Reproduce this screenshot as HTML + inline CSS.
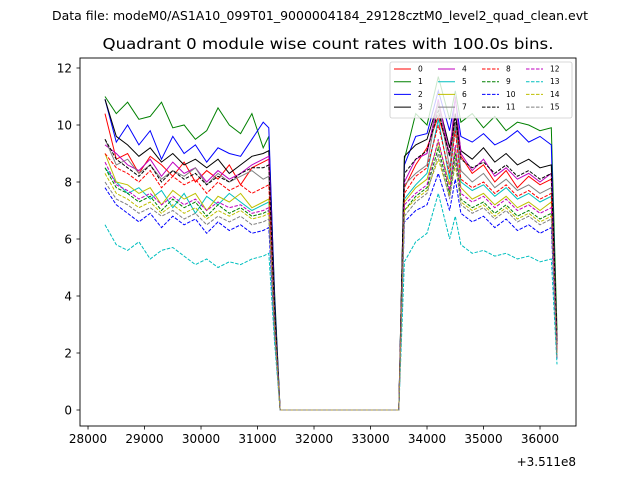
<!DOCTYPE html>
<html><head><meta charset="utf-8"><style>
body{margin:0;background:#fff;font-family:"Liberation Sans","DejaVu Sans",sans-serif}
svg text{font-family:"DejaVu Sans","Liberation Sans",sans-serif}
</style></head><body>
<svg id="c" width="640" height="480" xmlns="http://www.w3.org/2000/svg">
<rect width="640" height="480" fill="#fff"/>
<text x="320" y="20" font-size="12.4" text-anchor="middle" textLength="536" lengthAdjust="spacingAndGlyphs">Data file: modeM0/AS1A10_099T01_9000004184_29128cztM0_level2_quad_clean.evt</text>
<text x="328" y="49" font-size="15.5" text-anchor="middle" textLength="451" lengthAdjust="spacingAndGlyphs">Quadrant 0 module wise count rates with 100.0s bins.</text>
<g id="plot"></g>
<rect x="80" y="58" width="496" height="368" fill="none" stroke="#000" stroke-width="0.9"/>
<g id="axes"></g>
<text x="576" y="466" font-size="12" text-anchor="end">+3.511e8</text>
<g id="legend"></g>
</svg>
<script>
const times=[28300,28500,28700,28900,29100,29300,29500,29700,29900,30100,30300,30500,30700,30900,31100,31200,31300,31400,33500,33600,33800,34000,34200,34400,34500,34600,34800,35000,35200,35400,35600,35800,36000,36200,36300];
const s0=[10.4,8.8,9.0,8.3,8.9,8.6,8.2,8.7,8.0,8.4,8.1,8.6,7.9,8.5,8.7,8.8,3.5,0,0,7.8,8.6,9.2,10.3,9.0,10.1,8.9,8.3,8.6,8.0,8.4,7.8,8.2,7.9,8.1,2.3];
const s1=[11.0,10.4,10.8,10.2,10.3,10.8,9.9,10.0,9.5,9.8,10.6,10.0,9.7,10.4,9.2,9.6,4.2,0,0,8.8,10.4,10.0,11.7,10.2,11.2,10.1,10.4,9.9,10.3,9.8,10.1,10.0,9.8,9.9,2.8];
const s2=[10.9,9.4,10.0,9.3,9.8,8.8,9.6,9.0,9.3,8.7,9.2,9.0,8.9,9.5,10.1,9.9,4.0,0,0,8.6,9.6,9.7,11.2,9.8,10.9,9.6,9.4,9.7,9.3,9.5,9.8,9.4,9.6,9.3,2.0];
const s3=[10.9,9.6,9.3,8.9,9.2,8.7,9.0,8.6,8.8,8.5,8.8,8.3,8.6,8.9,9.0,9.1,3.8,0,0,8.9,9.3,9.5,10.8,9.2,10.4,9.1,8.8,9.2,8.7,9.0,8.6,8.8,8.5,8.6,2.5];
const s4=[9.3,9.0,8.6,8.4,8.8,8.2,8.7,8.3,8.5,8.0,8.4,8.1,8.3,8.6,8.8,8.9,3.3,0,0,8.0,8.8,9.0,10.9,8.9,11.0,9.0,8.4,8.8,8.2,8.5,8.1,8.3,8.0,8.3,2.2];
const s5=[8.5,8.0,7.6,7.8,7.4,7.7,7.1,7.6,6.9,7.5,7.2,7.6,7.3,7.0,7.2,7.3,3.0,0,0,7.4,7.9,8.3,10.2,8.1,10.0,8.0,7.7,7.9,7.5,7.8,7.4,7.6,7.3,7.5,2.0];
const s6=[9.0,8.0,7.9,7.6,7.8,7.2,7.7,7.4,7.6,7.0,7.5,7.3,7.6,7.1,7.3,7.4,3.1,0,0,7.3,7.8,8.1,9.4,7.9,9.2,7.8,7.4,7.6,7.2,7.5,7.1,7.3,7.0,7.3,2.1];
const s7=[9.5,8.6,8.8,8.3,8.6,8.1,8.4,8.2,8.5,7.9,8.3,8.0,8.2,8.4,8.1,8.2,3.4,0,0,7.9,8.3,8.6,10.8,8.5,10.1,8.4,8.0,8.3,7.8,8.1,7.7,7.9,7.6,7.8,2.2];
const s8=[9.0,8.5,8.3,8.0,8.4,7.8,8.2,7.9,8.1,7.6,8.0,7.7,7.9,7.6,7.8,7.9,3.2,0,0,7.6,8.2,8.5,10.0,8.3,9.8,8.1,7.8,8.0,7.6,7.9,7.5,7.7,7.4,7.6,2.1];
const s9=[8.5,7.8,7.6,7.3,7.5,7.0,7.4,7.1,7.3,6.8,7.2,6.9,7.1,6.8,6.9,7.0,2.9,0,0,7.0,7.5,7.8,9.2,7.6,9.0,7.4,7.1,7.3,6.9,7.2,6.8,7.0,6.7,6.9,1.9];
const s10=[7.8,7.2,6.9,6.6,6.9,6.4,6.8,6.5,6.7,6.2,6.6,6.3,6.5,6.2,6.3,6.4,2.7,0,0,6.6,7.0,7.2,8.3,7.0,8.1,6.9,6.6,6.8,6.4,6.7,6.3,6.5,6.2,6.4,1.8];
const s11=[9.5,8.8,8.5,8.2,8.6,8.0,8.4,8.1,8.3,7.9,8.2,8.0,8.3,8.5,8.5,8.6,3.4,0,0,8.3,8.8,9.1,10.5,8.9,10.3,8.8,8.5,8.7,8.3,8.6,8.2,8.4,8.1,8.3,2.3];
const s12=[8.7,7.9,7.7,7.4,7.6,7.2,7.5,7.2,7.4,7.0,7.3,7.1,7.2,6.9,7.0,7.1,3.0,0,0,7.2,7.6,7.9,9.5,7.7,9.3,7.6,7.3,7.5,7.1,7.4,7.0,7.2,6.9,7.1,2.0];
const s13=[6.5,5.8,5.6,5.9,5.3,5.6,5.7,5.4,5.1,5.3,5.0,5.2,5.1,5.3,5.4,5.5,2.4,0,0,5.2,5.9,6.2,7.6,6.0,6.8,5.8,5.5,5.6,5.4,5.5,5.3,5.4,5.2,5.3,1.6];
const s14=[8.3,7.6,7.4,7.1,7.3,6.9,7.2,6.9,7.1,6.7,7.0,6.8,7.0,6.7,6.8,6.9,2.9,0,0,7.0,7.4,7.7,8.8,7.5,8.6,7.3,7.0,7.2,6.8,7.1,6.7,6.9,6.6,6.8,1.9];
const s15=[8.0,7.4,7.2,6.9,7.1,6.8,7.0,6.7,6.9,6.5,6.8,6.6,6.8,6.5,6.6,6.7,2.8,0,0,6.8,7.3,7.6,9.0,7.4,8.8,7.2,6.9,7.1,6.7,7.0,6.6,6.8,6.5,6.7,1.8];
const series=[s0,s1,s2,s3,s4,s5,s6,s7,s8,s9,s10,s11,s12,s13,s14,s15];
const colors=["#ff0000","#008000","#0000ff","#000000","#bf00bf","#00bfbf","#bfbf00","#808080"];
const xTicks=[28000,29000,30000,31000,32000,33000,34000,35000,36000];
const yTicks=[0,2,4,6,8,10,12];
const X=v=>80+(v-27858)*496/(36637-27858);
const Y=v=>410-v*28.5;
const NS="http://www.w3.org/2000/svg";
function mk(t,a,p){const e=document.createElementNS(NS,t);for(const k in a)e.setAttribute(k,a[k]);p.appendChild(e);return e;}
const plot=document.getElementById('plot'),axes=document.getElementById('axes'),leg=document.getElementById('legend');
series.forEach((s,i)=>{
  const d=s.map((v,j)=>(j?'L':'M')+X(times[j]).toFixed(1)+','+Y(v).toFixed(1)).join('');
  const p=mk('path',{d:d,fill:'none',stroke:colors[i%8],'stroke-width':1,'stroke-dasharray':i>=8?'3.5,1.5':'none'},plot);
  
  
});
xTicks.forEach(t=>{
  const x=X(t);
  const l=mk('line',{x1:x,x2:x,y1:426,y2:429.5,stroke:'#000','stroke-width':0.8},axes);
  
  
  const tx=mk('text',{x:x,y:443,'font-size':12,'text-anchor':'middle'},axes);tx.textContent=t;
  
  
});
yTicks.forEach(t=>{
  const y=Y(t);
  const l=mk('line',{x1:76.5,x2:80,y1:y,y2:y,stroke:'#000','stroke-width':0.8},axes);
  
  
  const tx=mk('text',{x:72,y:y+4.5,'font-size':12,'text-anchor':'end'},axes);tx.textContent=t;
  
  
});
const box=mk('rect',{x:390,y:62,width:182,height:56,fill:'#fff','fill-opacity':0.8,stroke:'#ccc','stroke-width':0.8,rx:2},leg);


series.forEach((s,i)=>{
  const col=Math.floor(i/4),row=i%4;
  const x=394+col*44,y=69+row*12.7;
  const l=mk('line',{x1:x,x2:x+17,y1:y,y2:y,stroke:colors[i%8],'stroke-width':1,'stroke-dasharray':i>=8?'3.5,1.5':'none'},leg);
  
  
  const t=mk('text',{x:x+24,y:y+2.5,'font-size':7.5},leg);t.textContent=i;
  
  
});
</script>
</body></html>
